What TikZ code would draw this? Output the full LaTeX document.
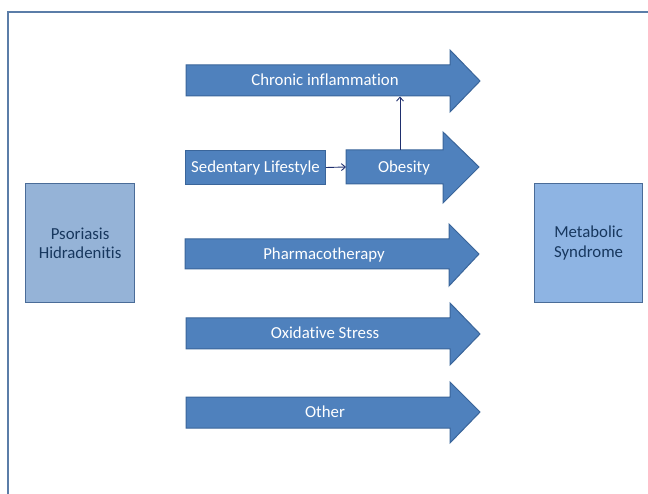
\documentclass[tikz,border=0pt]{standalone}
\usepackage{fontspec}
\setmainfont[Ligatures=NoCommon]{Carlito}
\usetikzlibrary{arrows.meta}
\definecolor{arrfill}{HTML}{4F81BD}
\definecolor{arrline}{HTML}{3A659A}
\definecolor{lbox}{HTML}{95B3D7}
\definecolor{rbox}{HTML}{8EB4E3}
\definecolor{boxline}{HTML}{4A6C98}
\definecolor{navy}{HTML}{17375E}
\definecolor{framec}{HTML}{5B7DA8}
\definecolor{conn}{HTML}{1F2F6E}
\tikzset{
  bigarrow/.style={fill=arrfill, draw=arrline, line width=1pt, line join=miter},
  wlabel/.style={text=white, font=\fontsize{16.8}{19.5}\selectfont, inner sep=0pt, text height=10.8pt, text depth=0pt},
  sidebox/.style={draw=boxline, line width=1.2pt, text=navy, font=\fontsize{16.8}{19.5}\selectfont, align=center, inner sep=0pt, anchor=north west},
  sedbox/.style={fill=arrfill, draw=arrline, line width=1pt, text=white, font=\fontsize{16.8}{19.5}\selectfont, inner sep=0pt, text height=10.8pt, text depth=0pt, anchor=north west},
  link/.style={draw=conn, line width=0.9pt, -{Straight Barb[length=4pt,width=7pt]}}
}
\begin{document}
\begin{tikzpicture}[x=1pt,y=-1pt]
\useasboundingbox (0,0) rectangle (648,494);
\clip (0,0) rectangle (648,494);
% frame
\draw[framec, line width=1.5pt] (8,520) -- (8,12) -- (670,12);
% side boxes
\node[sidebox, fill=lbox, minimum width=109pt, minimum height=119pt] (psor) at (25,183) {Psoriasis\\Hidradenitis};
\node[sidebox, fill=rbox, minimum width=108pt, minimum height=119pt] (meta) at (534,183) {Metabolic\\Syndrome};
% big arrows
\draw[bigarrow] (186,65) -- (450,65) -- (450,50) -- (480,81) -- (450,112) -- (450,96) -- (186,96) -- cycle;
\draw[bigarrow] (346,150) -- (443,150) -- (443,132) -- (479,167) -- (443,203) -- (443,184) -- (346,184) -- cycle;
\draw[bigarrow] (185,239) -- (449,239) -- (449,224) -- (479,254) -- (449,286) -- (449,269) -- (185,269) -- cycle;
\draw[bigarrow] (186,318) -- (450,318) -- (450,303) -- (480,334) -- (450,365) -- (450,349) -- (186,349) -- cycle;
\draw[bigarrow] (186,397) -- (450,397) -- (450,382) -- (480,412) -- (450,443) -- (450,428) -- (186,428) -- cycle;
% labels
\node[wlabel] (chronic) at (325,80.5) {Chronic inflammation};
\node[wlabel] (obesity) at (404,167) {Obesity};
\node[wlabel] (pharma) at (324,254) {Pharmacotherapy};
\node[wlabel] (oxid) at (325,333.5) {Oxidative Stress};
\node[wlabel] (other) at (325,412) {Other};
\node[sedbox, minimum width=140pt, minimum height=34pt] (sed) at (185,150) {Sedentary Lifestyle};
% connectors
\coordinate (obleft) at (346,167);
\coordinate (obtop) at (400,150);
\coordinate (chbot) at (400,96.5);
\draw[link] (sed.east) -- (obleft);
\draw[link] (obtop) -- (chbot);
\end{tikzpicture}
\end{document}
